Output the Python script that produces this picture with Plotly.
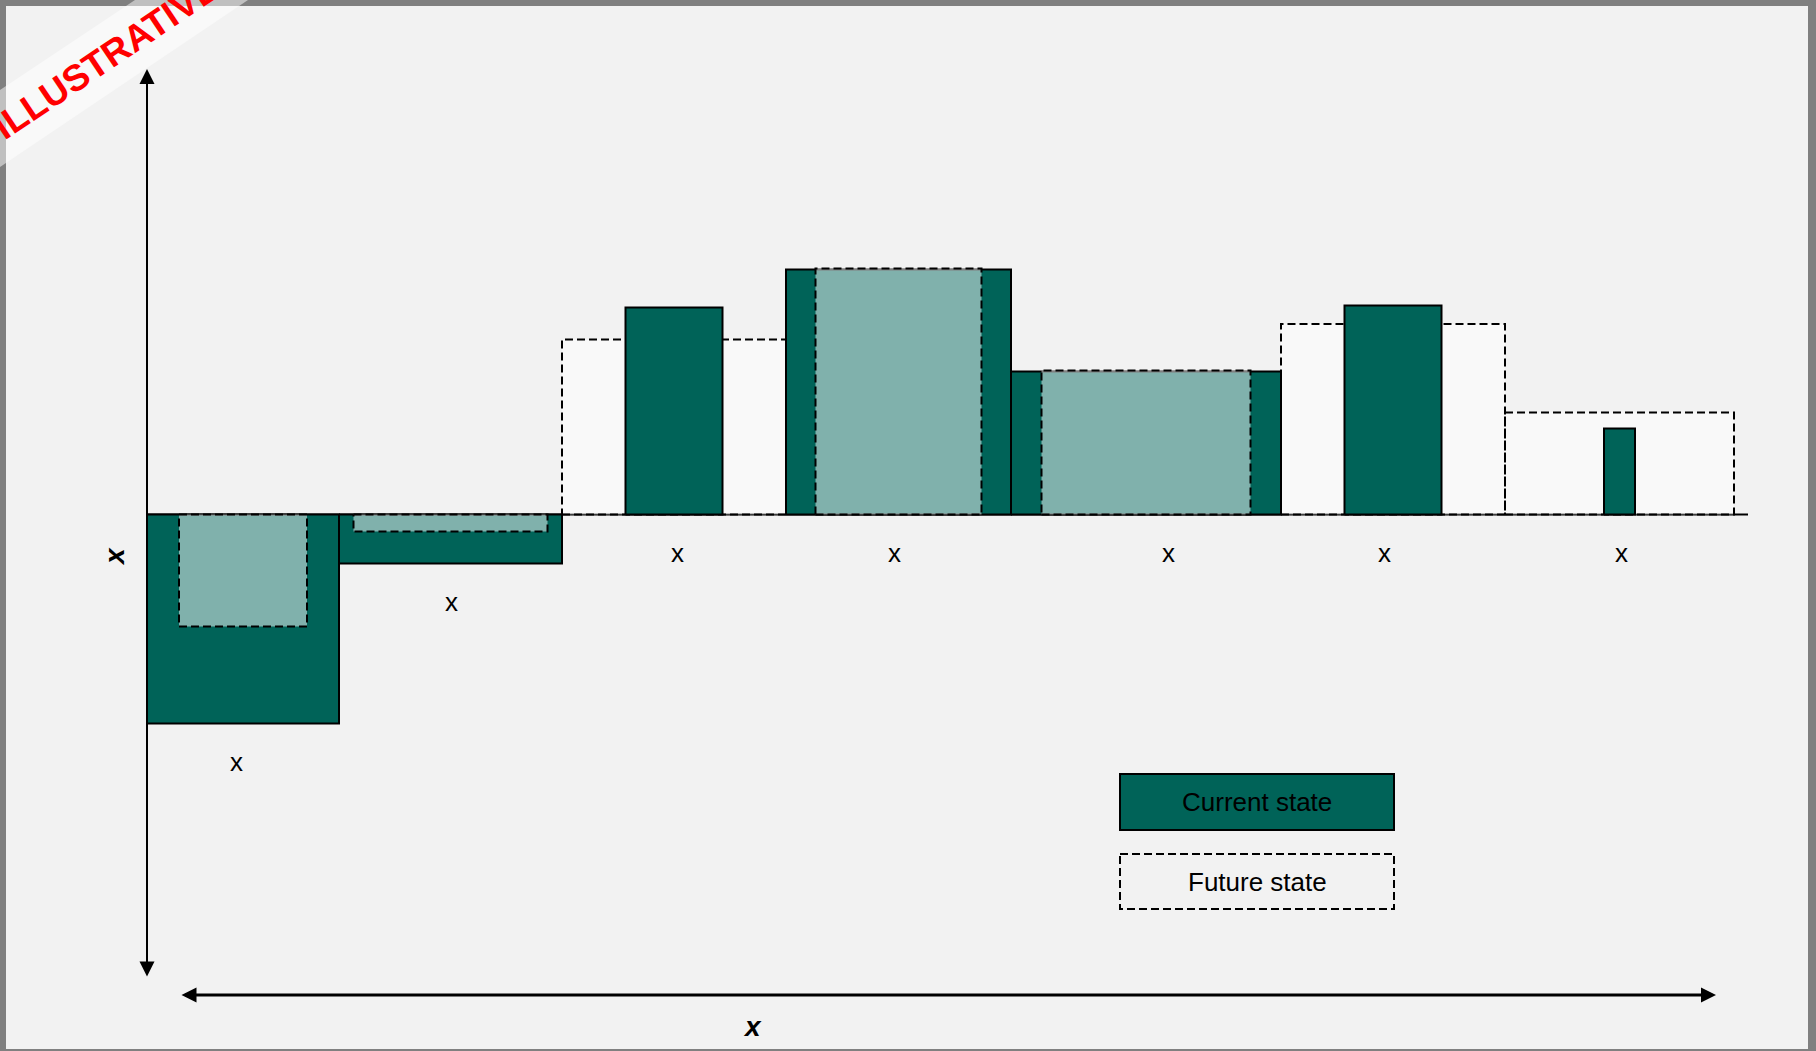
import plotly.graph_objects as go

# ---------------- data ----------------
categories = ["A", "B", "C", "D", "E", "F", "G"]
bar_labels = ["x", "x", "x", "x", "x", "x", "x"]
current_width = [19.2, 22.3, 9.7, 22.5, 27.0, 9.7, 3.1]
current_height = [-20.9, -4.9, 20.7, 24.5, 14.3, 20.9, 8.6]
future_width = [12.8, 19.4, 22.4, 16.6, 20.9, 22.4, 22.9]
future_height = [-11.2, -1.7, 17.5, 24.6, 14.4, 19.05, 10.2]
legend_labels = ["Current state", "Future state"]
x_axis_title = "x"
y_axis_title = "x"
stamp_text = "ILLUSTRATIVE"

# ---------------- styles / layout constants ----------------
W, H = 1816, 1051
TEAL = "#006358"
FUTURE_FILL = "rgba(255,255,255,0.5)"
DASH = "8px,4px"
FONT = "Arial, Liberation Sans, sans-serif"
PX = 10.0                  # pixels per data unit
X0_PX, Y0_PX = 147, 514.5  # pixel position of the origin
PLOT_L, PLOT_R, PLOT_T, PLOT_B = 6, 1808, 6, 1049
label_gap = 3.85
label_shift = [-0.7, 0.1, 0.3, -0.4, 2.2, -0.9, 0.2]


def X(px):
    return (px - X0_PX) / PX


def Y(py):
    return -(py - Y0_PX) / PX


# slots: each category is as wide as its widest state; narrower state is centred
slot_w = [max(a, b) for a, b in zip(current_width, future_width)]
lefts = []
acc = 0.0
for w in slot_w:
    lefts.append(acc)
    acc += w
total = acc
centers = [l + w / 2 for l, w in zip(lefts, slot_w)]


def rect_path(items):
    xs, ys = [], []
    for c, w, h in items:
        xs += [c - w / 2, c + w / 2, c + w / 2, c - w / 2, c - w / 2, None]
        ys += [0, 0, h, h, 0, None]
    return xs, ys


fig = go.Figure()

# zero baseline
fig.add_trace(go.Scatter(x=[0, total + 1.4], y=[0, 0], mode="lines",
                         line=dict(color="black", width=2),
                         hoverinfo="skip", showlegend=False))

future_wide = [(c, fw, fh) for c, fw, fh, cw in zip(centers, future_width, future_height, current_width) if fw > cw]
future_narrow = [(c, fw, fh) for c, fw, fh, cw in zip(centers, future_width, future_height, current_width) if fw <= cw]
current_items = list(zip(centers, current_width, current_height))

# future states that are wider than current: drawn behind
xs, ys = rect_path(future_wide)
fig.add_trace(go.Scatter(x=xs, y=ys, mode="lines", fill="toself", fillcolor=FUTURE_FILL,
                         line=dict(color="black", width=2, dash=DASH),
                         name=legend_labels[1], showlegend=False, hoverinfo="skip"))

# current state bars
xs, ys = rect_path(current_items)
fig.add_trace(go.Scatter(x=xs, y=ys, mode="lines", fill="toself", fillcolor=TEAL,
                         line=dict(color="black", width=2),
                         name=legend_labels[0], showlegend=False, hoverinfo="skip"))

# future states narrower than current: drawn on top
xs, ys = rect_path(future_narrow)
fig.add_trace(go.Scatter(x=xs, y=ys, mode="lines", fill="toself", fillcolor=FUTURE_FILL,
                         line=dict(color="black", width=2, dash=DASH),
                         name=legend_labels[1], showlegend=False, hoverinfo="skip"))

annotations = []
# category labels
for c, ch, fh, lab, dx in zip(centers, current_height, future_height, bar_labels, label_shift):
    low = min(0, ch, fh)
    annotations.append(dict(x=c + dx, y=low - label_gap, text=lab, showarrow=False,
                            xref="x", yref="y", font=dict(size=26, color="black", family=FONT)))

# axes arrows
annotations.append(dict(x=0, y=Y(69), ax=0, ay=Y(978), xref="x", yref="y",
                        axref="x", ayref="y", text="", showarrow=True,
                        arrowside="end+start", arrowhead=2, startarrowhead=2,
                        arrowsize=1.5, startarrowsize=1.5, arrowwidth=2,
                        arrowcolor="black", standoff=0, startstandoff=0))
annotations.append(dict(x=X(1716), y=Y(995), ax=X(180), ay=Y(995), xref="x", yref="y",
                        axref="x", ayref="y", text="", showarrow=True,
                        arrowside="end+start", arrowhead=2, startarrowhead=2,
                        arrowsize=1.0, startarrowsize=1.0, arrowwidth=3,
                        arrowcolor="black", standoff=0, startstandoff=0))
# axis titles
annotations.append(dict(x=X(752), y=Y(1026), text=x_axis_title, showarrow=False,
                        xref="x", yref="y",
                        font=dict(size=28, color="black", family=FONT, weight="bold", style="italic")))
annotations.append(dict(x=X(114), y=Y(557), text=y_axis_title, showarrow=False, textangle=-90,
                        xref="x", yref="y",
                        font=dict(size=28, color="black", family=FONT, weight="bold", style="italic")))

# legend texts
annotations.append(dict(x=X(1257), y=Y(802), text=legend_labels[0], showarrow=False,
                        xref="x", yref="y", font=dict(size=26, color="black", family=FONT)))
annotations.append(dict(x=X(1257), y=Y(882), text=legend_labels[1], showarrow=False,
                        xref="x", yref="y", font=dict(size=26, color="black", family=FONT)))

# stamp
annotations.append(dict(x=106 / W, y=1 - 57 / H, xref="paper", yref="paper",
                        text=stamp_text, showarrow=False, textangle=-33.9,
                        xanchor="center", yanchor="middle",
                        font=dict(size=37, color="#ff0000", family=FONT, weight="bold")))

shapes = [
    # legend boxes
    dict(type="rect", xref="x", yref="y", x0=X(1120), x1=X(1394), y0=Y(774), y1=Y(830),
         fillcolor=TEAL, line=dict(color="black", width=2), layer="above"),
    dict(type="rect", xref="x", yref="y", x0=X(1120), x1=X(1394), y0=Y(854), y1=Y(909),
         fillcolor="rgba(0,0,0,0)", line=dict(color="black", width=2, dash=DASH), layer="above"),
    # stamp band
    dict(type="path", xref="paper", yref="paper",
         path=f"M 0 {1 - 90 / H} L {135 / W} 1 L {248 / W} 1 L 0 {1 - 167 / H} Z",
         fillcolor="rgba(255,255,255,0.5)", line=dict(width=0), layer="above"),
]

fig.update_layout(
    width=W, height=H, autosize=False,
    margin=dict(l=0, r=0, t=0, b=0, pad=0),
    paper_bgcolor="#808080", plot_bgcolor="#f2f2f2",
    showlegend=False,
    xaxis=dict(domain=[PLOT_L / W, PLOT_R / W],
               range=[X(PLOT_L), X(PLOT_R)], showgrid=False, zeroline=False,
               showticklabels=False, showline=False, fixedrange=True),
    yaxis=dict(domain=[1 - PLOT_B / H, 1 - PLOT_T / H],
               range=[Y(PLOT_B), Y(PLOT_T)], showgrid=False, zeroline=False,
               showticklabels=False, showline=False, fixedrange=True),
    annotations=annotations, shapes=shapes,
    font=dict(family=FONT),
)

fig.write_html("out.html", config={"displayModeBar": False},
               post_script="document.body.style.margin='0';document.body.style.overflow='hidden';")
